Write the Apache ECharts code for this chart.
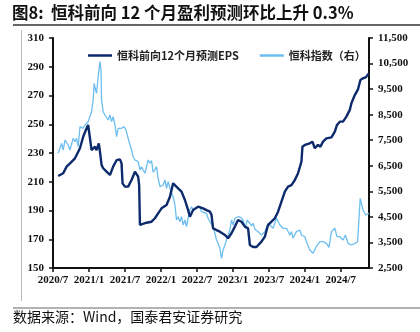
<!DOCTYPE html>
<html>
<head>
<meta charset="utf-8">
<script src="https://cdn.jsdelivr.net/npm/echarts@6/dist/echarts.min.js"></script>
<style>
  html, body { margin: 0; padding: 0; background: #fff; }
  #chart { width: 420px; height: 332px; }
</style>
</head>
<body>
<div id="chart"></div>
<script>
// Hang Seng TECH: forward 12-month EPS (left axis) vs index level (right axis)
const epsName = '恒科前向12个月预测EPS';
const idxName = '恒科指数（右）';

const epsDates = [
  '2020-07-27','2020-08-22','2020-09-09','2020-09-26','2020-10-21','2020-11-16','2020-12-02','2020-12-19','2020-12-27',
  '2021-01-06','2021-01-14','2021-01-22','2021-02-01','2021-02-09','2021-02-20','2021-02-25','2021-03-04','2021-03-12',
  '2021-03-21','2021-03-29','2021-04-16','2021-05-02','2021-05-19','2021-06-06','2021-06-14','2021-06-19','2021-07-01',
  '2021-07-17','2021-08-04','2021-08-21','2021-09-07','2021-09-12','2021-09-16','2021-10-19','2021-11-14','2021-12-01',
  '2021-12-17','2022-01-04','2022-01-29','2022-02-16','2022-03-02','2022-03-11','2022-03-27','2022-04-14','2022-05-01',
  '2022-05-17','2022-05-26','2022-06-12','2022-07-07','2022-08-02','2022-08-19','2022-09-06','2022-09-14','2022-09-22',
  '2022-10-09','2022-10-26','2022-11-21','2022-12-07','2022-12-24','2023-01-11','2023-01-27','2023-02-14','2023-03-01',
  '2023-03-17','2023-03-26','2023-04-12','2023-04-29','2023-05-07','2023-05-24','2023-06-11','2023-06-27','2023-07-14',
  '2023-08-01','2023-08-17','2023-09-04','2023-09-21','2023-10-07','2023-10-24','2023-11-11','2023-11-27','2023-12-14',
  '2023-12-19','2024-01-01','2024-01-26','2024-02-09','2024-02-21','2024-03-07','2024-03-19','2024-04-02','2024-04-19',
  '2024-05-14','2024-06-01','2024-06-12','2024-06-26','2024-07-12','2024-07-29','2024-08-16','2024-08-24','2024-09-11',
  '2024-09-27','2024-10-09','2024-10-22','2024-11-06','2024-11-20'
];
const epsValues = [
  214.0, 215.9, 220.5, 222.8, 226.3, 233.3, 241.3, 247.2, 249.5,
  248.3, 232.0, 231.0, 234.4, 232.0, 236.7, 232.0, 221.7, 219.4,
  220.5, 217.0, 214.7, 220.5, 225.0, 225.6, 222.8, 208.9, 206.6,
  206.6, 211.2, 217.0, 213.5, 207.7, 180.0, 181.5, 182.2, 184.6,
  188.0, 191.5, 193.8, 199.6, 208.9, 209.3, 205.4, 203.1, 197.3,
  190.3, 185.7, 190.3, 192.7, 191.5, 190.3, 189.2, 187.0, 177.6,
  176.4, 175.3, 173.0, 170.7, 174.2, 178.8, 183.4, 182.2, 178.8,
  177.6, 166.0, 164.6, 164.6, 164.4, 168.3, 171.8, 179.9, 182.2,
  184.6, 189.2, 196.1, 203.1, 206.6, 207.7, 211.2, 215.9, 224.0,
  234.4, 235.6, 236.7, 237.9, 233.3, 235.6, 234.4, 237.9, 240.2,
  240.9, 244.8, 249.5, 251.8, 251.8, 255.3, 260.0, 264.6, 270.3,
  274.3, 280.8, 282.0, 282.6, 285.2
];

const idxDates = [
  '2020-07-27','2020-08-06','2020-08-14','2020-08-22','2020-09-01','2020-09-09','2020-09-17','2020-09-26','2020-10-12',
  '2020-10-21','2020-10-29','2020-11-07','2020-11-16','2020-11-24','2020-12-02','2020-12-11','2020-12-27','2021-01-06',
  '2021-01-14','2021-01-22','2021-01-27','2021-02-04','2021-02-09','2021-02-17','2021-02-26','2021-03-01','2021-03-04',
  '2021-03-12','2021-03-21','2021-03-29','2021-04-07','2021-04-16','2021-04-24','2021-05-02','2021-05-11','2021-05-19',
  '2021-05-27','2021-06-06','2021-06-14','2021-06-26','2021-07-06','2021-07-17','2021-07-26','2021-08-04','2021-08-12',
  '2021-08-21','2021-09-07','2021-09-16','2021-09-24','2021-10-11','2021-10-27','2021-11-06','2021-11-14','2021-11-22',
  '2021-12-01','2021-12-09','2021-12-17','2021-12-26','2022-01-12','2022-01-21','2022-01-29','2022-02-07','2022-02-16',
  '2022-03-02','2022-03-11','2022-03-19','2022-03-27','2022-04-06','2022-04-14','2022-04-22','2022-05-01','2022-05-09',
  '2022-05-17','2022-05-26','2022-06-04','2022-06-12','2022-06-29','2022-07-16','2022-07-24','2022-08-02','2022-08-19',
  '2022-08-27','2022-09-06','2022-09-14','2022-09-22','2022-10-01','2022-10-09','2022-10-17','2022-10-26','2022-11-04',
  '2022-11-12','2022-11-21','2022-11-29','2022-12-07','2022-12-16','2022-12-24','2023-01-02','2023-01-11','2023-01-27',
  '2023-02-09','2023-02-22','2023-03-04','2023-03-12','2023-03-26','2023-04-04','2023-04-12','2023-04-21','2023-05-07',
  '2023-05-24','2023-06-11','2023-06-27','2023-07-06','2023-07-22','2023-08-09','2023-08-26','2023-09-12','2023-09-29',
  '2023-10-16','2023-10-24','2023-11-02','2023-11-19','2023-12-06','2023-12-14','2024-01-01','2024-01-09','2024-01-26',
  '2024-02-12','2024-02-28','2024-03-16','2024-04-02','2024-04-19','2024-05-02','2024-05-14','2024-06-01','2024-06-12',
  '2024-06-26','2024-07-12','2024-07-24','2024-08-07','2024-08-24','2024-09-11','2024-09-25','2024-10-08','2024-10-22',
  '2024-11-06','2024-11-22'
];
const idxValues = [
  6990, 7184, 7380, 7117, 7509, 7575, 7313, 7117, 7575,
  7442, 7575, 7247, 8029, 8096, 7966, 8096, 8225, 8291,
  8616, 9074, 9727, 9465, 9336, 9986, 10573, 10248, 9074,
  8616, 8487, 8553, 8291, 8487, 8225, 8422, 8096, 7638,
  7966, 8029, 7966, 8029, 7900, 7575, 7575, 7117, 6855,
  6726, 6660, 6335, 6465, 6206, 6726, 6600, 6700, 6250,
  6350, 6465, 6010, 5681, 5748, 5943, 5619, 5877, 5619,
  5290, 4965, 4378, 4507, 4312, 4507, 4183, 4378, 4116,
  4445, 4770, 4899, 4770, 4836, 4899, 4703, 4640, 4640,
  4445, 4312, 4312, 4116, 3858, 3596, 3466, 3271, 2880,
  3204, 3400, 3596, 3529, 3987, 4378, 4183, 4445, 4507,
  4484, 4378, 4054, 4378, 4250, 4150, 4250, 4020, 3922,
  3791, 3922, 4247, 4312, 4054, 4445, 4183, 4054, 4054,
  3791, 3922, 3662, 3922, 3987, 3791, 3725, 3529, 3204,
  3075, 3334, 3529, 3529, 3466, 3310, 3922, 4054, 3725,
  3725, 3596, 3791, 3466, 3400, 3466, 3529, 5228, 4770,
  4573, 4640
];

const leftTicks = { min: 150, max: 310, step: 20 };
const rightTicks = { min: 2500, max: 11500, step: 1000 };

// months elapsed since 2020-07-01, used as the x coordinate
function monthIndex(s) {
  const [y, m, d] = s.split('-').map(Number);
  return (y - 2020) * 12 + (m - 7) + (d - 1) / 30;
}
function monthLabel(v) {
  if (Math.abs(v - Math.round(v)) > 1e-6 || Math.round(v) % 6 !== 0) return '';
  const total = 6 + Math.round(v);
  return (2020 + Math.floor(total / 12)) + '/' + (total % 12 + 1);
}

const serifFont = '"Liberation Serif", "Noto Sans CJK SC", serif';
const cjkFont = '"Noto Sans CJK SC", sans-serif';
const axisCommon = {
  axisLine: { show: true, lineStyle: { color: '#111', width: 2 } },
  axisTick: { show: true, length: 4, lineStyle: { color: '#111', width: 1.5 } },
  splitLine: { show: false },
  axisLabel: { color: '#111', fontSize: 11, fontWeight: 'bold', fontFamily: serifFont }
};

const epsColor = '#0c2a6c';
const idxColor = '#6dbef0';

const chart = echarts.init(document.getElementById('chart'), null, { renderer: 'canvas' });
chart.setOption({
  animation: false,
  backgroundColor: '#fff',
  grid: { left: 53, right: 51, top: 38, bottom: 64 },
  legend: {
    data: [
      { name: epsName, icon: 'rect', itemStyle: { color: epsColor } },
      { name: idxName, icon: 'rect', itemStyle: { color: idxColor } }
    ],
    left: 83, top: 45,
    itemWidth: 24, itemHeight: 2.5, itemGap: 21,
    textStyle: { color: '#222', fontSize: 11, fontWeight: 'bold', fontFamily: cjkFont }
  },
  xAxis: {
    type: 'value', min: 0, max: 52.7, interval: 6,
    ...axisCommon,
    axisLabel: { ...axisCommon.axisLabel, margin: 7, formatter: monthLabel, showMaxLabel: false }
  },
  yAxis: [
    {
      type: 'value', position: 'left', min: leftTicks.min, max: leftTicks.max, interval: leftTicks.step,
      ...axisCommon,
      axisLabel: { ...axisCommon.axisLabel, margin: 9 }
    },
    {
      type: 'value', position: 'right', min: rightTicks.min, max: rightTicks.max, interval: rightTicks.step,
      ...axisCommon,
      axisLabel: { ...axisCommon.axisLabel, margin: 9, formatter: v => v.toLocaleString('en-US') }
    }
  ],
  series: [
    {
      name: idxName, type: 'line', yAxisIndex: 1, symbol: 'none', z: 2,
      lineStyle: { color: idxColor, width: 1.3 },
      itemStyle: { color: idxColor },
      data: idxDates.map((d, i) => [monthIndex(d), idxValues[i]])
    },
    {
      name: epsName, type: 'line', yAxisIndex: 0, symbol: 'none', z: 3,
      lineStyle: { color: epsColor, width: 2.4 },
      itemStyle: { color: epsColor },
      data: epsDates.map((d, i) => [monthIndex(d), epsValues[i]])
    }
  ],
  graphic: [
    {
      type: 'text', left: 12, top: 4,
      style: { text: '图8:  恒科前向 12 个月盈利预测环比上升 0.3%', fill: '#111', fontSize: 16.5, fontWeight: 'bold', fontFamily: cjkFont }
    },
    { type: 'line', shape: { x1: 13, y1: 25, x2: 420, y2: 25 }, style: { stroke: '#333', lineWidth: 1.5 } },
    { type: 'line', shape: { x1: 21.5, y1: 30, x2: 21.5, y2: 301 }, style: { stroke: '#bbb', lineWidth: 1 } },
    { type: 'line', shape: { x1: 13, y1: 308, x2: 420, y2: 308 }, style: { stroke: '#666', lineWidth: 1 } },
    {
      type: 'text', left: 13, top: 310,
      style: { text: '数据来源：Wind，国泰君安证券研究', fill: '#111', fontSize: 14, fontFamily: cjkFont }
    }
  ]
});
</script>
</body>
</html>
